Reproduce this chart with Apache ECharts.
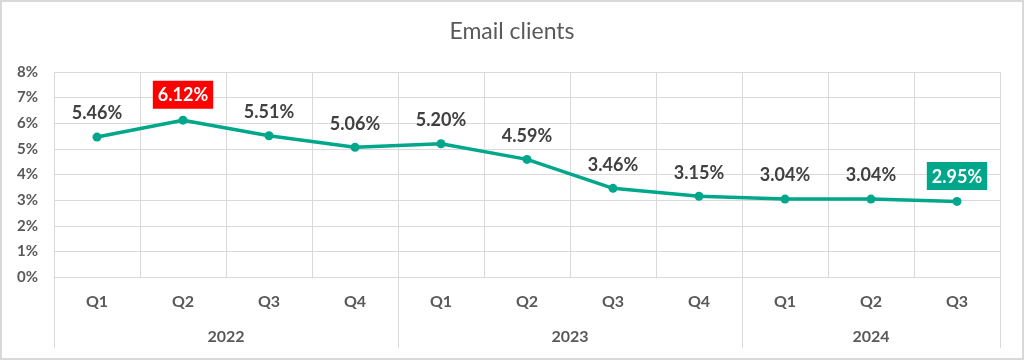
<!DOCTYPE html>
<html>
<head>
<meta charset="utf-8">
<script src="https://cdn.jsdelivr.net/npm/echarts@6/dist/echarts.min.js"></script>
<style>
  html, body { margin: 0; padding: 0; background: #fff; }
  #wrap { width: 1024px; height: 360px; box-sizing: border-box; border: 2px solid #d9d9d9; background: #fff; }
  #chart { width: 1020px; height: 356px; }
</style>
</head>
<body>
<div id="wrap"><div id="chart"></div></div>
<script>
const titleText = 'Email clients';
const quarters = ['Q1','Q2','Q3','Q4','Q1','Q2','Q3','Q4','Q1','Q2','Q3'];
const years = ['2022','2023','2024'];
const quartersPerYear = [4, 4, 3];
const values = [5.46, 6.12, 5.51, 5.06, 5.20, 4.59, 3.46, 3.15, 3.04, 3.04, 2.95];
const yTicks = [0, 1, 2, 3, 4, 5, 6, 7, 8];

const lineColor = '#00a78a';
const gridColor = '#d9d9d9';
const axisText = '#595959';
const labelText = '#404040';
const FONT = 'Lato';

// year group boundaries & centers derived from group sizes
const boundaries = [0];
const centers = [];
quartersPerYear.forEach(n => {
  const start = boundaries[boundaries.length - 1];
  centers.push(start + n / 2);
  boundaries.push(start + n);
});

const maxIdx = values.indexOf(Math.max(...values));
const lastIdx = values.length - 1;

const seriesData = values.map((v, i) => {
  if (i === maxIdx || i === lastIdx) {
    return {
      value: v,
      label: {
        color: '#ffffff',
        backgroundColor: i === maxIdx ? '#ff0000' : lineColor,
        padding: [6, 5, 4, 5],
        distance: 7
      }
    };
  }
  return v;
});

const chart = echarts.init(document.getElementById('chart'), null, { renderer: 'canvas' });
chart.setOption({
  animation: false,
  backgroundColor: '#fff',
  title: {
    text: titleText,
    left: 'center',
    top: 18,
    padding: 0,
    textStyle: { fontFamily: FONT, fontSize: 23, fontWeight: 'normal', color: axisText }
  },
  grid: { left: 52, top: 70, right: 22, bottom: 81, containLabel: false },
  xAxis: [
    {
      type: 'category',
      data: quarters,
      position: 'bottom',
      boundaryGap: true,
      axisLine: { show: true, lineStyle: { color: gridColor, width: 1 } },
      axisTick: { show: false },
      splitLine: { show: true, interval: 0, lineStyle: { color: gridColor, width: 1 } },
      axisLabel: { interval: 0, margin: 17, fontFamily: FONT, fontSize: 16, fontWeight: 'bold', color: axisText }
    },
    {
      type: 'value',
      min: 0,
      max: quarters.length,
      position: 'bottom',
      axisLine: { show: false },
      splitLine: { show: false },
      axisTick: { show: true, length: 71, customValues: boundaries, lineStyle: { color: gridColor, width: 1 } },
      axisLabel: {
        customValues: centers,
        margin: 52,
        fontFamily: FONT, fontSize: 16, fontWeight: 'bold', color: axisText,
        formatter: v => {
          const k = centers.findIndex(c => Math.abs(c - v) < 1e-6);
          return k >= 0 ? years[k] : '';
        }
      }
    }
  ],
  yAxis: {
    type: 'value',
    min: yTicks[0],
    max: yTicks[yTicks.length - 1],
    interval: 1,
    axisLine: { show: false },
    axisTick: { show: false },
    splitLine: { show: true, lineStyle: { color: gridColor, width: 1 } },
    axisLabel: { margin: 16, fontFamily: FONT, fontSize: 15, fontWeight: 'bold', color: axisText, formatter: '{value}%' }
  },
  series: [{
    type: 'line',
    data: seriesData,
    xAxisIndex: 0,
    symbol: 'circle',
    symbolSize: 9,
    itemStyle: { color: lineColor },
    lineStyle: { color: lineColor, width: 3.5 },
    label: {
      show: true,
      position: 'top',
      distance: 10,
      fontFamily: FONT, fontSize: 18, fontWeight: 'bold', color: labelText,
      formatter: p => p.value.toFixed(2) + '%'
    }
  }]
});
</script>
</body>
</html>
